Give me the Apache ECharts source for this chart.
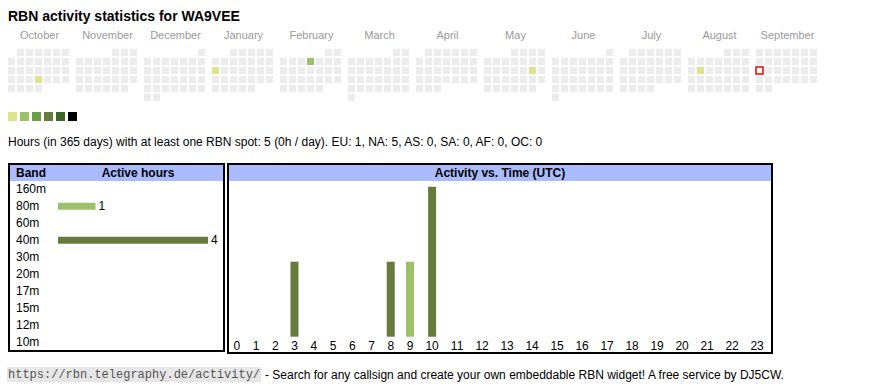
<!DOCTYPE html>
<html>
<head>
<meta charset="utf-8">
<script src="https://cdn.jsdelivr.net/npm/echarts@6/dist/echarts.min.js"></script>
<style>
html,body{margin:0;padding:0;background:#fff;}
#c{width:870px;height:390px;}
</style>
</head>
<body>
<div id="c"></div>
<script>
// ---------- data ----------
const titleText = 'RBN activity statistics for WA9VEE';
const summaryText = 'Hours (in 365 days) with at least one RBN spot: 5 (0h / day). EU: 1, NA: 5, AS: 0, SA: 0, AF: 0, OC: 0';
const months = ['2024-10','2024-11','2024-12','2025-01','2025-02','2025-03','2025-04','2025-05','2025-06','2025-07','2025-08','2025-09'];
const monthNames = ['October','November','December','January','February','March','April','May','June','July','August','September'];
const activeDays = ['2024-10-24','2025-01-13','2025-02-06','2025-05-17','2025-08-12'];
const activeLevels = [1, 1, 2, 1, 1];
const todayDate = '2025-09-15';
const levels = [1, 2, 3, 4, 5, 6];
const bands = ['160m','80m','60m','40m','30m','20m','17m','15m','12m','10m'];
const bandHours = [0, 1, 0, 4, 0, 0, 0, 0, 0, 0];
const hourLabels = ['0','1','2','3','4','5','6','7','8','9','10','11','12','13','14','15','16','17','18','19','20','21','22','23'];
const hours40m = [0,0,0,1,0,0,0,0,1,0,2,0,0,0,0,0,0,0,0,0,0,0,0,0];
const hours80m = [0,0,0,0,0,0,0,0,0,1,0,0,0,0,0,0,0,0,0,0,0,0,0,0];

// ---------- styles ----------
const levelColors = ['#dde38b','#9dc16a','#6b9f45','#677c3c','#3b6827','#000000'];
const bandColor = {'80m': '#9dc16a', '40m': '#677c3c'};
const SANS = '"Liberation Sans", Arial, sans-serif';
const MONO = '"Liberation Mono", "DejaVu Sans Mono", monospace';

// hour columns sized like an auto-layout table (wider for two-digit labels)
const colW = hourLabels.map(s => 13.5 + 5.75 * s.length);
const hourCenters = [];
let acc = 0;
colW.forEach(w => { hourCenters.push(acc + w / 2); acc += w; });
const hourTotal = acc;

const chart = echarts.init(document.getElementById('c'), null, {renderer: 'svg'});

const calendars = months.map((m, i) => ({
  orient: 'vertical',
  range: m,
  left: 7 + 68 * i,
  top: 48,
  cellSize: [9, 9],
  splitLine: {show: false},
  itemStyle: {color: '#ececec', borderColor: '#ffffff', borderWidth: 2},
  dayLabel: {show: false, firstDay: 1},
  monthLabel: {show: false},
  yearLabel: {show: false}
}));

const heatSeries = months.map((m, i) => ({
  type: 'heatmap',
  coordinateSystem: 'calendar',
  calendarIndex: i,
  itemStyle: {borderWidth: 0},
  emphasis: {disabled: true},
  data: activeDays.map((d, k) => [d, activeLevels[k]]).filter(p => p[0].slice(0, 7) === m)
}));

const todaySeries = {
  type: 'custom',
  coordinateSystem: 'calendar',
  calendarIndex: months.indexOf(todayDate.slice(0, 7)),
  data: [[todayDate, 1]],
  renderItem: function (params, api) {
    const p = api.coord([api.value(0)]);
    return {
      type: 'rect',
      shape: {x: p[0] - 3.5, y: p[1] - 3.5, width: 7, height: 7},
      style: {fill: '#ffffff', stroke: '#ee0000', lineWidth: 1.5}
    };
  }
};

function txt(x, y, text, font, fill, align) {
  return {type: 'text', x: x, y: y, silent: true,
    style: {text: text, font: font, fill: fill || '#000', align: align || 'left', verticalAlign: 'middle'}};
}

const graphics = [
  txt(8, 16, titleText, 'bold 14px ' + SANS, '#000'),
  txt(8, 142, summaryText, '12px ' + SANS, '#000'),
  // band table box
  {type: 'rect', shape: {x: 10, y: 165, width: 213, height: 16}, style: {fill: '#aabbff'}, silent: true},
  {type: 'rect', shape: {x: 9, y: 164, width: 215, height: 187}, style: {fill: 'none', stroke: '#000', lineWidth: 2}, silent: true},
  txt(16, 173, 'Band', 'bold 12px ' + SANS),
  txt(138, 173, 'Active hours', 'bold 12px ' + SANS, '#000', 'center'),
  // activity box
  {type: 'rect', shape: {x: 229, y: 165, width: 542, height: 16}, style: {fill: '#aabbff'}, silent: true},
  {type: 'rect', shape: {x: 228, y: 164, width: 544, height: 189}, style: {fill: 'none', stroke: '#000', lineWidth: 2}, silent: true},
  txt(500, 173, 'Activity vs. Time (UTC)', 'bold 12px ' + SANS, '#000', 'center'),
  // footer
  {type: 'rect', shape: {x: 7, y: 367, width: 254, height: 15}, style: {fill: '#e6e6e6'}, silent: true},
  txt(8, 374.5, 'https://rbn.telegraphy.de/activity/', '12px ' + MONO, '#555'),
  txt(265, 374.5, '- Search for any callsign and create your own embeddable RBN widget! A free service by DJ5CW.', '12px ' + SANS, '#000')
];
monthNames.forEach((n, i) => graphics.push(txt(7 + 68 * i + 32.5, 35, n, '11px ' + SANS, '#9a9a9a', 'center')));

const option = {
  animation: false,
  calendar: calendars,
  visualMap: {
    type: 'piecewise',
    seriesIndex: months.map((m, i) => i),
    orient: 'horizontal',
    left: 8,
    top: 112,
    padding: 0,
    itemWidth: 9,
    itemHeight: 9,
    itemGap: 3,
    showLabel: false,
    itemSymbol: 'rect',
    selectedMode: false,
    pieces: levels.map((v, i) => ({value: v, color: levelColors[i]}))
  },
  grid: [
    {left: 58, top: 180.8, width: 150, height: 170},
    {left: 227.1, top: 186.7, width: hourTotal, height: 150}
  ],
  xAxis: [
    {gridIndex: 0, type: 'value', min: 0, max: 4, show: false},
    {gridIndex: 1, type: 'value', min: 0, max: hourTotal,
      axisLine: {show: false}, axisTick: {show: false}, splitLine: {show: false},
      axisLabel: {
        show: true, margin: 3, fontSize: 12, fontFamily: SANS, color: '#000',
        customValues: hourCenters,
        formatter: function (v) {
          let best = 0;
          hourCenters.forEach((c, i) => { if (Math.abs(c - v) < Math.abs(hourCenters[best] - v)) best = i; });
          return hourLabels[best];
        }
      }}
  ],
  yAxis: [
    {gridIndex: 0, type: 'category', inverse: true, data: bands,
      axisLine: {show: false}, axisTick: {show: false}, splitLine: {show: false},
      axisLabel: {align: 'left', margin: 42, fontSize: 12, fontFamily: SANS, color: '#000'}},
    {gridIndex: 1, type: 'value', min: 0, max: 2, show: false}
  ],
  series: heatSeries.concat([
    todaySeries,
    {
      type: 'bar', xAxisIndex: 0, yAxisIndex: 0, barWidth: 7,
      data: bandHours.map((v, i) => ({value: v, itemStyle: {color: bandColor[bands[i]] || '#677c3c'}})),
      label: {show: true, position: 'right', distance: 3, fontSize: 12, fontFamily: SANS, color: '#000',
        formatter: p => (p.value > 0 ? String(p.value) : '')},
      emphasis: {disabled: true}
    },
    {
      type: 'bar', name: '40m', xAxisIndex: 1, yAxisIndex: 1, barWidth: 8, stack: 'hours',
      itemStyle: {color: bandColor['40m']},
      data: hours40m.map((v, i) => [hourCenters[i], v]),
      emphasis: {disabled: true}
    },
    {
      type: 'bar', name: '80m', xAxisIndex: 1, yAxisIndex: 1, barWidth: 8, stack: 'hours',
      itemStyle: {color: bandColor['80m']},
      data: hours80m.map((v, i) => [hourCenters[i], v]),
      emphasis: {disabled: true}
    }
  ]),
  graphic: graphics
};
chart.setOption(option);
</script>
</body>
</html>
